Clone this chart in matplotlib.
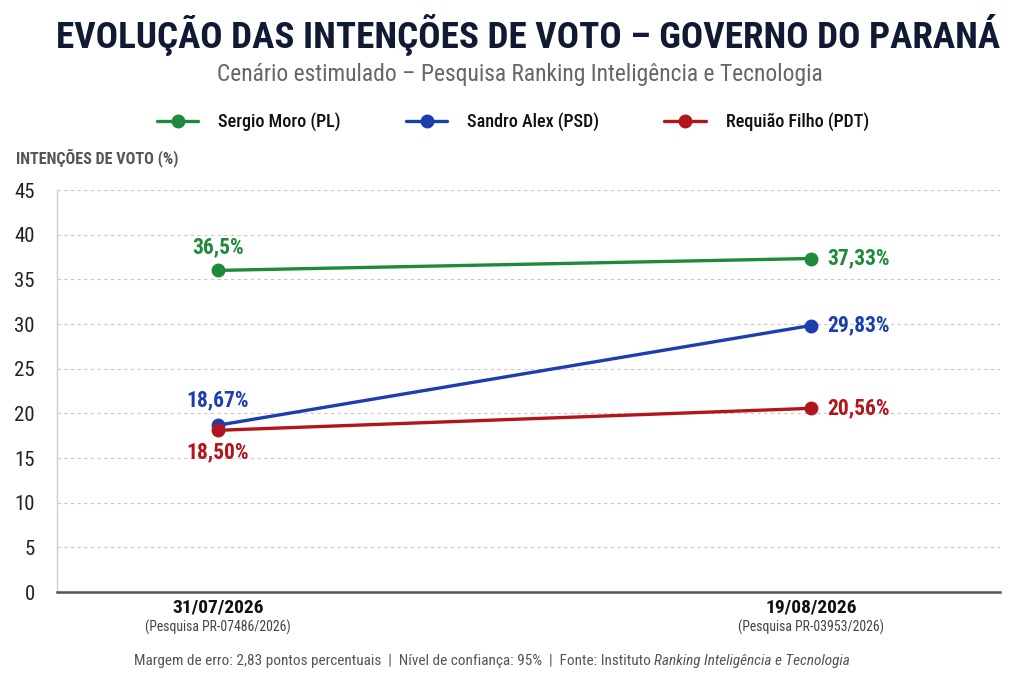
import matplotlib
matplotlib.use("Agg")
import matplotlib.pyplot as plt
from matplotlib import font_manager as fm
from matplotlib.transforms import blended_transform_factory

# ---------------- data ----------------
dates = ["31/07/2026", "19/08/2026"]
surveys = ["(Pesquisa PR-07486/2026)", "(Pesquisa PR-03953/2026)"]
series_names = ["Sergio Moro (PL)", "Sandro Alex (PSD)", "Requião Filho (PDT)"]
moro = [36.0, 37.33]
alex = [18.67, 29.83]
requiao = [18.1, 20.56]
moro_labels = ["36,5%", "37,33%"]
alex_labels = ["18,67%", "29,83%"]
requiao_labels = ["18,50%", "20,56%"]
yticks = [0, 5, 10, 15, 20, 25, 30, 35, 40, 45]

colors = ["#1f8a3b", "#1c3fae", "#b4151b"]

# ---------------- fonts ----------------
ttf = fm.fontManager.ttflist
names = {f.name for f in ttf}
fam, stretch = "Roboto", "normal"
found = False
for n in ["Roboto Condensed", "Noto Sans Condensed", "Open Sans Condensed",
          "Liberation Sans Narrow", "DejaVu Sans Condensed"]:
    if n in names:
        fam, stretch, found = n, "normal", True
        break
if not found:
    for n in ["Roboto", "Noto Sans", "Open Sans", "DejaVu Sans"]:
        if any(f.name == n and str(f.stretch) in ("condensed", "semi-condensed", "extra-condensed")
               for f in ttf):
            fam, stretch, found = n, "condensed", True
            break
FAM = [fam, "DejaVu Sans"]
plt.rcParams["font.family"] = FAM
plt.rcParams["font.stretch"] = stretch

fig = plt.figure(figsize=(10.24, 6.83), dpi=100)
fig.patch.set_facecolor("white")
W, H = 1024, 683

ax = fig.add_axes([57 / W, (H - 592) / H, (1000 - 57) / W, (592 - 190) / H])
x = [0, 1]
lines = []
for vals, c, nm in zip([moro, alex, requiao], colors, series_names):
    ln, = ax.plot(x, vals, color=c, lw=2.4, marker="o", markersize=9,
                  solid_capstyle="round", label=nm, zorder=3)
    lines.append(ln)

ax.set_xlim(-0.2715, 1.319)
ax.set_ylim(0, 45)
ax.set_yticks(yticks)
ax.set_yticklabels([str(v) for v in yticks], fontsize=15, color="#222222")
ax.tick_params(axis="y", length=0, pad=16)
ax.set_xticks([])
ax.grid(axis="y", color="#c8c8c8", linestyle=(0, (3, 3)), lw=0.8)
ax.set_axisbelow(True)
for s in ["top", "right"]:
    ax.spines[s].set_visible(False)
ax.spines["left"].set_color("#d0d0d0")
ax.spines["left"].set_linewidth(1.0)
ax.spines["bottom"].set_color("#555555")
ax.spines["bottom"].set_linewidth(1.8)

# value labels
LBL = 15.5
ax.annotate(moro_labels[0], (x[0], moro[0]), xytext=(0, 9), textcoords="offset points",
            ha="center", va="bottom", color=colors[0], fontsize=LBL, fontweight="bold")
ax.annotate(alex_labels[0], (x[0], alex[0]), xytext=(0, 10), textcoords="offset points",
            ha="center", va="bottom", color=colors[1], fontsize=LBL, fontweight="bold")
ax.annotate(requiao_labels[0], (x[0], requiao[0]), xytext=(0, -8), textcoords="offset points",
            ha="center", va="top", color=colors[2], fontsize=LBL, fontweight="bold")
for vals, labs, c in zip([moro, alex, requiao], [moro_labels, alex_labels, requiao_labels], colors):
    ax.annotate(labs[1], (x[1], vals[1]), xytext=(12, 0), textcoords="offset points",
                ha="left", va="center", color=c, fontsize=LBL, fontweight="bold")

# x category labels
tr = blended_transform_factory(ax.transData, fig.transFigure)
for xi, d, s in zip(x, dates, surveys):
    ax.text(xi, 1 - 607 / H, d, transform=tr, ha="center", va="center",
            fontsize=14, fontweight="bold", color="#111111")
    ax.text(xi, 1 - 627 / H, s, transform=tr, ha="center", va="center",
            fontsize=9.9, color="#444444")

# axis title
fig.text(16 / W, 1 - 158 / H, "INTENÇÕES DE VOTO (%)", ha="left", va="center",
         fontsize=11.6, fontweight="bold", color="#555555")

renderer = fig.canvas.get_renderer()

def fit(t, target_px):
    w = t.get_window_extent(renderer).width
    t.set_fontsize(t.get_fontsize() * target_px / w)

title = fig.text(528 / W, 1 - 35 / H, "EVOLUÇÃO DAS INTENÇÕES DE VOTO – GOVERNO DO PARANÁ",
                 ha="center", va="center", fontsize=30, fontweight="heavy", color="#111a33")
fit(title, 944)
sub = fig.text(520 / W, 1 - 74 / H, "Cenário estimulado – Pesquisa Ranking Inteligência e Tecnologia",
               ha="center", va="center", fontsize=14, color="#666666")
fit(sub, 610)

leg = fig.legend(handles=lines, loc="center", bbox_to_anchor=(513 / W, 1 - 122 / H),
                 ncol=3, frameon=False, fontsize=13, handlelength=2.3,
                 columnspacing=3.6, handletextpad=1.1)
for t in leg.get_texts():
    t.set_color("#111111")
    t.set_fontweight("medium")

# footer with italic part
foot1 = "Margem de erro: 2,83 pontos percentuais  |  Nível de confiança: 95%  |  Fonte: Instituto "
foot2 = "Ranking Inteligência e Tecnologia"
f1 = fig.text(0, 1 - 661 / H, foot1, ha="left", va="center", fontsize=10, color="#555555")
f2 = fig.text(0, 1 - 661 / H, foot2, ha="left", va="center", fontsize=10, color="#555555",
              style="italic")
w1 = f1.get_window_extent(renderer).width
w2 = f2.get_window_extent(renderer).width
scale = 715 / (w1 + w2)
f1.set_fontsize(10 * scale)
f2.set_fontsize(10 * scale)
w1 = f1.get_window_extent(renderer).width
w2 = f2.get_window_extent(renderer).width
left = 492 - (w1 + w2) / 2
f1.set_x(left / W)
f2.set_x((left + w1) / W)

fig.savefig("out.png", dpi=100, facecolor="white")
